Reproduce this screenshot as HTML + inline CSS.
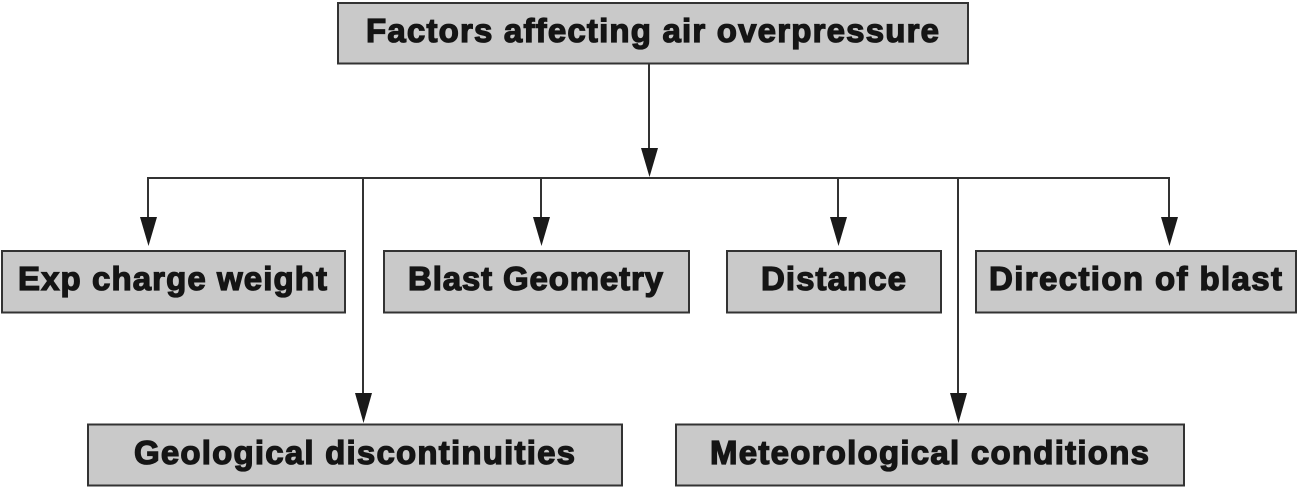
<!DOCTYPE html>
<html>
<head>
<meta charset="utf-8">
<style>
html,body{margin:0;padding:0;background:#fff;width:1300px;height:490px;overflow:hidden}
svg{display:block}
text{font-family:"Liberation Sans",Arial,sans-serif;font-weight:700;font-size:33px;fill:#151515;stroke:#151515;stroke-width:1.3px}
.b{fill:#c9c9c9;stroke:#333;stroke-width:2}
.l{stroke:#333;stroke-width:2;fill:none}
.a{fill:#1a1a1a;stroke:none}
</style>
</head>
<body>
<svg width="1300" height="490" viewBox="0 0 1300 490" xmlns="http://www.w3.org/2000/svg">
<rect class="b" x="338" y="3" width="630" height="60.500"/>
<rect class="b" x="2" y="251" width="343" height="61.500"/>
<rect class="b" x="384" y="251" width="305" height="61.500"/>
<rect class="b" x="727" y="251" width="214" height="61.500"/>
<rect class="b" x="976" y="251" width="320" height="61.500"/>
<rect class="b" x="88" y="424.500" width="534" height="61"/>
<rect class="b" x="676" y="424.500" width="508" height="61"/>

<path class="l" d="M649 64V160M148 218V178H1169V218M363 178V396M541 178V218M838 178V218M958 178V396M1169 178V218"/>

<polygon class="a" points="641,148 658,148 649.500,177"/>
<polygon class="a" points="140,217 157,217 148.500,246"/>
<polygon class="a" points="533,217 550,217 541.500,246"/>
<polygon class="a" points="830,217 847,217 838.500,246"/>
<polygon class="a" points="1161,217 1178,217 1169.500,246"/>
<polygon class="a" points="355,393 372,393 363.500,423"/>
<polygon class="a" points="950,393 967,393 958.500,423"/>

<text x="366" y="42" textLength="573" lengthAdjust="spacing">Factors affecting air overpressure</text>
<text x="18" y="290" textLength="309" lengthAdjust="spacing">Exp charge weight</text>
<text x="408" y="290" textLength="255" lengthAdjust="spacing">Blast Geometry</text>
<text x="761" y="290" textLength="145" lengthAdjust="spacing">Distance</text>
<text x="989" y="290" textLength="293" lengthAdjust="spacing">Direction of blast</text>
<text x="134" y="464" textLength="441" lengthAdjust="spacing">Geological discontinuities</text>
<text x="710" y="464" textLength="439" lengthAdjust="spacing">Meteorological conditions</text>
</svg>
</body>
</html>
